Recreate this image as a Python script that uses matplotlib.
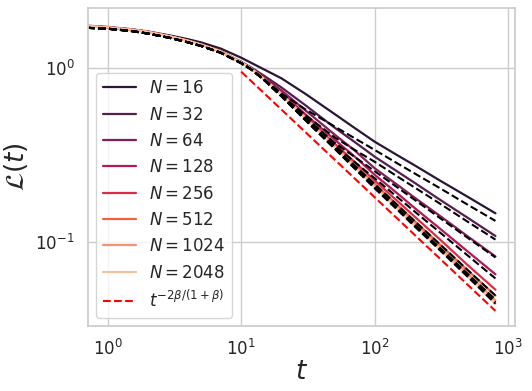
import numpy as np
import matplotlib
matplotlib.use("Agg")
import matplotlib.pyplot as plt
import seaborn as sns

t = [0.7, 1, 1.5, 2, 3, 4, 5, 7, 10, 12, 15, 20, 30, 50, 70, 100, 150, 200, 300, 500, 800]

Ns = [16, 32, 64, 128, 256, 512, 1024, 2048]

# simulated loss L(t) for each N
L16 = [1.76, 1.73, 1.68, 1.63, 1.54, 1.47, 1.41, 1.30, 1.15, 1.07, 0.98, 0.875, 0.715, 0.545, 0.455, 0.377, 0.313, 0.275, 0.228, 0.181, 0.146]
L32 = [1.75, 1.72, 1.67, 1.62, 1.52, 1.44, 1.37, 1.25, 1.09, 1.005, 0.90, 0.775, 0.615, 0.455, 0.378, 0.309, 0.252, 0.218, 0.177, 0.137, 0.108]
L64 = [1.75, 1.72, 1.67, 1.62, 1.52, 1.44, 1.37, 1.25, 1.08, 0.99, 0.88, 0.745, 0.575, 0.415, 0.338, 0.265, 0.211, 0.179, 0.143, 0.107, 0.0824]
L128 = [1.75, 1.72, 1.67, 1.62, 1.52, 1.44, 1.37, 1.25, 1.08, 0.99, 0.87, 0.725, 0.545, 0.388, 0.312, 0.243, 0.188, 0.156, 0.121, 0.0875, 0.065]
L256 = [1.75, 1.72, 1.67, 1.62, 1.52, 1.44, 1.37, 1.25, 1.08, 0.99, 0.865, 0.715, 0.53, 0.368, 0.29, 0.225, 0.170, 0.139, 0.105, 0.073, 0.053]
L512 = [1.75, 1.72, 1.67, 1.62, 1.52, 1.44, 1.37, 1.25, 1.08, 0.99, 0.86, 0.71, 0.522, 0.358, 0.28, 0.215, 0.161, 0.131, 0.098, 0.068, 0.049]
L1024 = [1.75, 1.72, 1.67, 1.62, 1.52, 1.44, 1.37, 1.25, 1.08, 0.99, 0.86, 0.71, 0.52, 0.354, 0.275, 0.21, 0.156, 0.127, 0.094, 0.065, 0.046]
L2048 = [1.75, 1.72, 1.67, 1.62, 1.52, 1.44, 1.37, 1.25, 1.08, 0.99, 0.86, 0.71, 0.52, 0.352, 0.272, 0.207, 0.153, 0.124, 0.092, 0.063, 0.044]

# theory curves (black dashed), one per N
T16 = [1.71, 1.69, 1.64, 1.585, 1.49, 1.41, 1.345, 1.23, 1.07, 0.98, 0.86, 0.715, 0.582, 0.462, 0.397, 0.338, 0.281, 0.247, 0.206, 0.163, 0.132]
T32 = [1.71, 1.69, 1.64, 1.585, 1.49, 1.41, 1.345, 1.23, 1.07, 0.98, 0.855, 0.70, 0.54, 0.40, 0.34, 0.289, 0.236, 0.205, 0.168, 0.130, 0.103]
T64 = [1.71, 1.69, 1.64, 1.585, 1.49, 1.41, 1.345, 1.23, 1.07, 0.98, 0.85, 0.695, 0.525, 0.372, 0.31, 0.255, 0.204, 0.174, 0.139, 0.105, 0.0813]
T128 = [1.71, 1.69, 1.64, 1.585, 1.49, 1.41, 1.345, 1.23, 1.07, 0.98, 0.85, 0.69, 0.515, 0.36, 0.29, 0.232, 0.179, 0.149, 0.115, 0.083, 0.0615]
T256 = [1.71, 1.69, 1.64, 1.585, 1.49, 1.41, 1.345, 1.23, 1.07, 0.98, 0.85, 0.69, 0.51, 0.352, 0.277, 0.215, 0.161, 0.131, 0.0985, 0.0684, 0.049]
T512 = [1.71, 1.69, 1.64, 1.585, 1.49, 1.41, 1.345, 1.23, 1.07, 0.98, 0.85, 0.69, 0.508, 0.348, 0.272, 0.208, 0.155, 0.126, 0.094, 0.065, 0.0465]
T1024 = [1.71, 1.69, 1.64, 1.585, 1.49, 1.41, 1.345, 1.23, 1.07, 0.98, 0.85, 0.69, 0.505, 0.345, 0.268, 0.205, 0.153, 0.124, 0.092, 0.063, 0.045]
T2048 = [1.71, 1.69, 1.64, 1.585, 1.49, 1.41, 1.345, 1.23, 1.07, 0.98, 0.85, 0.69, 0.505, 0.344, 0.266, 0.203, 0.151, 0.122, 0.091, 0.0625, 0.044]

# power law guide
t_pow = [10, 800]
L_pow = [0.955, 0.040]

sim = [L16, L32, L64, L128, L256, L512, L1024, L2048]
theory = [T16, T32, T64, T128, T256, T512, T1024, T2048]

sns.set_theme(style="whitegrid")
colors = sns.color_palette("rocket", len(Ns))

fig = plt.figure(figsize=(5.32, 3.91), dpi=100)
ax = fig.add_axes([0.165, 0.166, 0.803, 0.814])

for N, L, c in zip(Ns, sim, colors):
    ax.plot(t, L, color=c, lw=1.6, label=r"$N = %d$" % N)
for T in theory:
    ax.plot(t, T, color="black", ls="--", lw=1.5)
ax.plot(t_pow, L_pow, color="red", ls="--", lw=1.5, label=r"$t^{-2\beta/(1+\beta)}$")

ax.set_xscale("log")
ax.set_yscale("log")
ax.set_xlim(0.71, 1120)
ax.set_ylim(0.0327, 2.23)
ax.tick_params(labelsize=12)
ax.set_xlabel(r"$t$", fontsize=19, labelpad=0)
ax.set_ylabel(r"$\mathcal{L}(t)$", fontsize=19)
ax.legend(loc="lower left", fontsize=12)

fig.savefig("out.png", dpi=100)
